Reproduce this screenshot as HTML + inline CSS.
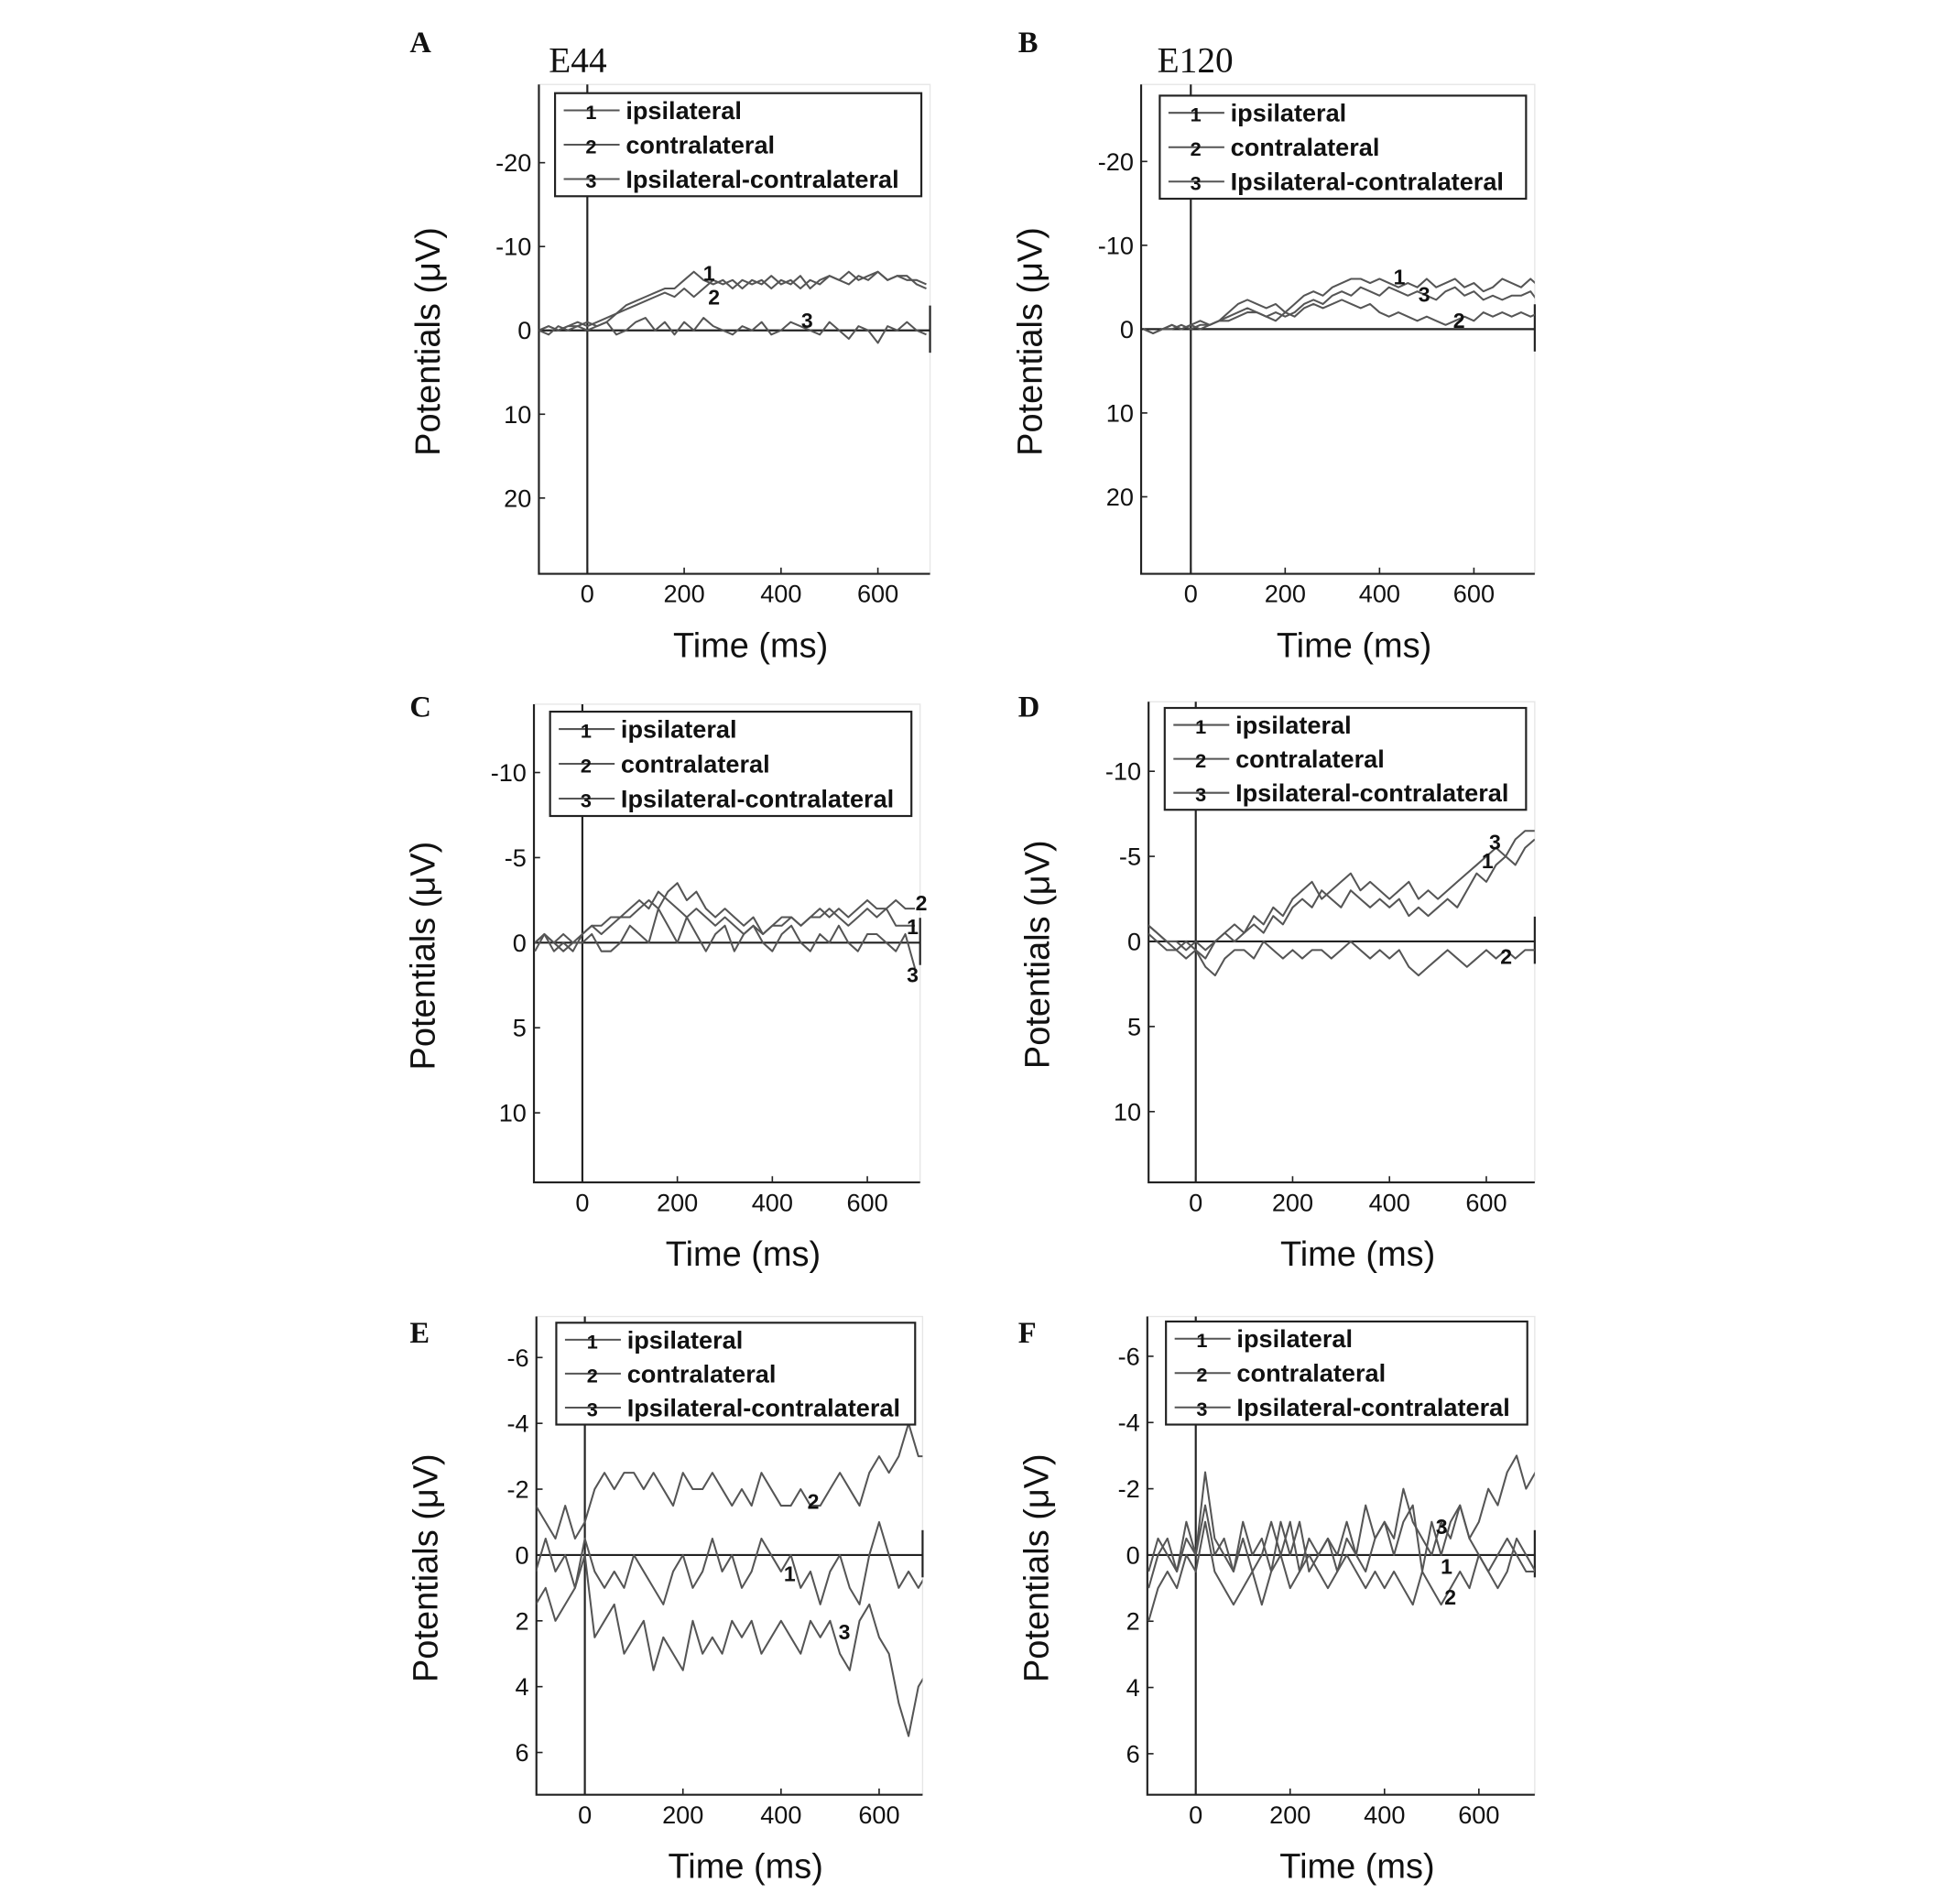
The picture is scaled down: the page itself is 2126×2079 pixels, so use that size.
<!DOCTYPE html>
<html><head><meta charset="utf-8"><title>ERP potentials</title>
<style>
html,body{margin:0;padding:0;background:#fff;}
svg{display:block;}
text{font-family:"Liberation Sans",Arial,sans-serif;fill:#111;}
</style></head>
<body>
<svg id="fig" width="2126" height="2079" viewBox="0 0 1568 1533" preserveAspectRatio="none" xmlns="http://www.w3.org/2000/svg"></svg>
<script>
// ---- data ----
const times = [-100,-80,-60,-40,-20,0,20,40,60,80,100,120,140,160,180,200,220,240,260,280,300,320,340,360,380,400,420,440,460,480,500,520,540,560,580,600,620,640,660,680,700,720,740,760];
const seriesNames = ["ipsilateral","contralateral","Ipsilateral-contralateral"];
const yTicksA = [-20,-10,0,10,20];
const yTicksC = [-10,-5,0,5,10];
const yTicksE = [-6,-4,-2,0,2,4,6];
const xTicks = [0,200,400,600];

const A1 = [0,-0.5,0,-0.5,-1,-0.5,-1,-1.5,-2,-3,-3.5,-4,-4.5,-5,-5,-6,-7,-6,-5.5,-6,-5,-6,-5.5,-6,-5,-6,-5.5,-6.5,-5,-6,-6.5,-6,-7,-6,-6.5,-7,-6,-6.5,-6,-6,-5.5];
const A2 = [0,-0.5,0,-0.5,-0.5,-1,-0.5,-1,-2,-2.5,-3,-3.5,-4,-4.5,-4,-5,-4,-5,-6,-5.5,-6,-5,-6,-5.5,-6.5,-5.5,-6,-5,-6,-5.5,-6.5,-6,-5.5,-6.5,-6,-7,-6,-6.5,-6.5,-5.5,-5];
const A3 = [0,0.5,-0.5,0,-0.5,0,-0.5,-1,0.5,0,-1,-1.5,0,-1,0.5,-1,0,-1.5,-0.5,0,0.5,-0.5,0,-1,0.5,0,-1,-0.5,0,0.5,-1,0,1,-0.5,0,1.5,-0.5,0,-1,0,0.5];

const B1 = [0,0.5,0,-0.5,0,-0.5,-1,-0.5,-1,-2,-3,-3.5,-3,-2.5,-3,-2,-3,-4,-4.5,-4,-5,-5.5,-6,-6,-5.5,-6,-5.5,-5,-5.5,-5,-6,-5,-5.5,-6,-5,-5.5,-4.5,-5,-6,-5.5,-5,-6,-5,-4];
const B2 = [0,0.5,0,0,-0.5,0,-0.5,-0.5,-1,-1.5,-2,-2.5,-2,-1.5,-1,-2,-1.5,-2.5,-3,-2.5,-3,-3.5,-3,-2.5,-3,-2,-1.5,-2,-1.5,-1,-1.5,-1,-0.5,-1,-1.5,-1,-2,-1.5,-2,-1.5,-2,-1.5,-2,-1.5];
const B3 = [0,0.5,0,-0.5,0,-0.5,0,-0.5,-1,-1,-1.5,-2,-2,-1.5,-2,-1.5,-2,-3,-3.5,-3,-4,-4.5,-4,-5,-4.5,-4,-5,-4.5,-4,-4.5,-4,-3.5,-4.5,-5,-4,-4.5,-3.5,-4,-3.5,-4,-4,-4.5,-3,-3];

const C1 = [0,-0.5,0.5,0,0.5,-0.5,-1,-1,-1.5,-1.5,-2,-2.5,-2,-3,-2.5,-2,-1.5,-2,-1.5,-1,-1.5,-1,-0.5,-1,-0.5,-1,-1,-1.5,-1,-1.5,-1.5,-2,-1.5,-1,-1.5,-2,-1.5,-2,-1,-1,-1];
const C2 = [0,-0.5,0,-0.5,0,-0.5,-1,-0.5,-1,-1.5,-1.5,-2,-2.5,-2,-3,-3.5,-2.5,-3,-2,-1.5,-2,-1.5,-1,-1.5,-0.5,-1,-1.5,-1.5,-1,-1.5,-2,-1.5,-2,-1.5,-2,-2.5,-2,-2,-2.5,-2,-2];
const C3 = [0.5,-0.5,0,0.5,0,0,-0.5,0.5,0.5,0,-1,-0.5,0,-2,-1,0,-1.5,-0.5,0.5,-0.5,-1,0.5,-0.5,-1,0,0.5,-0.5,-1,0,0.5,-0.5,0,-1,0,0.5,-0.5,-0.5,0,0.5,-0.5,1.5];

const D1 = [-1,-0.5,0,0.5,0,0.5,1,0,-0.5,0,-0.5,-1,-0.5,-1.5,-1,-2,-2.5,-2,-3,-2.5,-2,-3,-2.5,-2,-2.5,-2,-2.5,-1.5,-2,-1.5,-2,-2.5,-2,-3,-4,-3.5,-4.5,-5,-4.5,-5.5,-6];
const D2 = [-0.5,0,0.5,0.5,1,0.5,1.5,2,1,0.5,0.5,1,0,0.5,1,0.5,1,0.5,0.5,1,0.5,0,0.5,1,0.5,1,0.5,1.5,2,1.5,1,0.5,1,1.5,1,0.5,1,0.5,1,0.5,0.5];
const D3 = [-1,-0.5,0,0,0.5,0,0.5,0,-0.5,-1,-0.5,-1.5,-1,-2,-1.5,-2.5,-3,-3.5,-2.5,-3,-3.5,-4,-3,-3.5,-3,-2.5,-3,-3.5,-2.5,-3,-2.5,-3,-3.5,-4,-4.5,-5,-5.5,-5,-6,-6.5,-6.5];

const E1 = [0.5,-0.5,0.5,0,1,-0.5,0.5,1,0.5,1,0,0.5,1,1.5,0.5,0,1,0.5,-0.5,0.5,0,1,0.5,-0.5,0,0.5,0,1,0.5,1.5,0.5,0,1,1.5,0,-1,0,1,0.5,1,0.5];
const E2 = [-1.5,-1,-0.5,-1.5,-0.5,-1,-2,-2.5,-2,-2.5,-2.5,-2,-2.5,-2,-1.5,-2.5,-2,-2,-2.5,-2,-1.5,-2,-1.5,-2.5,-2,-1.5,-1.5,-2,-1.5,-1.5,-2,-2.5,-2,-1.5,-2.5,-3,-2.5,-3,-4,-3,-3];
const E3 = [1.5,1,2,1.5,1,0,2.5,2,1.5,3,2.5,2,3.5,2.5,3,3.5,2,3,2.5,3,2,2.5,2,3,2.5,2,2.5,3,2,2.5,2,3,3.5,2,1.5,2.5,3,4.5,5.5,4,3.5];

const F1 = [1,0,-0.5,0.5,-1,0,-2.5,-0.5,0,0.5,-1,0,-0.5,0.5,-1,0,-1,0.5,0,-0.5,0.5,-0.5,0,0.5,-0.5,-1,0,-1,-1.5,0.5,-1,0,-1,-1.5,-0.5,-1,-2,-1.5,-2.5,-3,-2,-2.5];
const F2 = [2,1,0.5,1,0,0.5,-1,0.5,1,1.5,1,0.5,1.5,0.5,0,1,0.5,0,0.5,1,0.5,0,0.5,1,0.5,1,0.5,1,1.5,0.5,1,1.5,1,0.5,1,0,0.5,1,0.5,-0.5,0,0.5];
const F3 = [0.5,-0.5,0,0.5,-0.5,0,-1.5,0,-0.5,0.5,-0.5,0.5,0,-1,0,-1,0.5,-0.5,0,-0.5,0,-1,0,-1.5,-0.5,-1,-0.5,-2,-1,-0.5,0,-1,-0.5,-1.5,-0.5,0,0.5,0,-0.5,0,0.5,0.5];

// ---- layout (pixel geometry, not data) ----
const panels = [
 {id:"a",letter:"A",lx:330,ly:42,title:"E44",tx:442,L:434,R:749,T:68,B:462,x0:473,x200:551,y0:266,yRef:-20,yRefPx:131,yt:yTicksA,s:[A1,A2,A3],leg:[447,75,742,158],marks:[["1",571,226],["2",575,245],["3",650,264]]},
 {id:"b",letter:"B",lx:820,ly:42,title:"E120",tx:932,L:919,R:1236,T:68,B:462,x0:959,x200:1035,y0:265,yRef:-20,yRefPx:130,yt:yTicksA,s:[B1,B2,B3],leg:[934,77,1229,160],marks:[["1",1127,229],["3",1147,243],["2",1175,264]]},
 {id:"c",letter:"C",lx:330,ly:577,L:430,R:741,T:567,B:952,x0:469,x200:545.5,y0:759,yRef:-10,yRefPx:622,yt:yTicksC,s:[C1,C2,C3],leg:[443,573,734,657],marks:[["2",742,733],["1",735,752],["3",735,791]]},
 {id:"d",letter:"D",lx:820,ly:577,L:925,R:1236,T:565,B:952,x0:963,x200:1041,y0:758,yRef:-10,yRefPx:621,yt:yTicksC,s:[D1,D2,D3],leg:[938,570,1229,652],marks:[["3",1204,684],["1",1198,699],["2",1213,776]]},
 {id:"e",letter:"E",lx:330,ly:1081,L:432,R:743,T:1060,B:1445,x0:471,x200:550,y0:1252,yRef:-6,yRefPx:1093,yt:yTicksE,s:[E1,E2,E3],leg:[448,1065,737,1147],marks:[["2",655,1215],["1",636,1273],["3",680,1320]]},
 {id:"f",letter:"F",lx:820,ly:1081,L:924,R:1236,T:1060,B:1445,x0:963,x200:1039,y0:1252,yRef:-6,yRefPx:1092,yt:yTicksE,s:[F1,F2,F3],leg:[939,1064,1230,1147],marks:[["3",1161,1235],["1",1165,1267],["2",1168,1292]]}
];

const NS = "http://www.w3.org/2000/svg";
const svg = document.getElementById("fig");
const defs = document.createElementNS(NS, "defs");
svg.appendChild(defs);
function mk(tag, parent, attrs){
  const e = document.createElementNS(NS, tag);
  for (const k in attrs) e.setAttribute(k, attrs[k]);
  parent.appendChild(e);
  return e;
}

panels.forEach(p=>{
  const g = mk("g", svg, {});
  
  
  const xs = t => p.x0 + (t/200)*(p.x200 - p.x0);
  const ys = v => p.y0 + (v/p.yRef)*(p.yRefPx - p.y0);

  const cp = mk("clipPath", defs, {id:"clip-"+p.id});
  mk("rect", cp, {x:p.L, y:p.T, width:p.R-p.L, height:p.B-p.T});

  const lt = mk("text", g, {x:p.lx, y:p.ly, "font-size":24, "font-weight":"bold", style:"font-family:'Liberation Serif',serif"});
  lt.textContent = p.letter;
  
  
  if (p.title){
    const tt = mk("text", g, {x:p.tx, y:58, "font-size":29, style:"font-family:'Liberation Serif',serif"});
    tt.textContent = p.title;
    
    
  }
  const fr = mk("rect", g, {x:p.L, y:p.T, width:p.R-p.L, height:p.B-p.T, fill:"none", stroke:"#e6e6e6", "stroke-width":1});
  
  
  const ax = mk("path", g, {d:`M${p.L},${p.T} V${p.B} H${p.R}`, fill:"none", stroke:"#222", "stroke-width":1.6});
  
  
  const zx = mk("line", g, {x1:xs(0), x2:xs(0), y1:p.T, y2:p.B, stroke:"#222", "stroke-width":1.6});
  
  
  const zy = mk("line", g, {x1:p.L, x2:p.R, y1:p.y0, y2:p.y0, stroke:"#222", "stroke-width":1.6});
  
  
  const rt = mk("line", g, {x1:p.R, x2:p.R, y1:p.y0-20, y2:p.y0+18, stroke:"#222", "stroke-width":1.6});
  
  

  p.yt.forEach(v=>{
    const y = ys(v);
    const tk = mk("line", g, {x1:p.L, x2:p.L+5, y1:y, y2:y, stroke:"#222", "stroke-width":1.2});
    
    
    const tl = mk("text", g, {x:p.L-6, y:y+7, "font-size":20, "text-anchor":"end"});
    tl.textContent = String(v);
    
    
  });
  xTicks.forEach(v=>{
    const x = xs(v);
    const tk = mk("line", g, {x1:x, x2:x, y1:p.B, y2:p.B-5, stroke:"#222", "stroke-width":1.2});
    
    
    const tl = mk("text", g, {x:x, y:p.B+23, "font-size":20, "text-anchor":"middle"});
    tl.textContent = String(v);
    
    
  });
  const xl = mk("text", g, {x:(p.L+p.R)/2+13, y:p.B+67, "font-size":28, "text-anchor":"middle"});
  xl.textContent = "Time (ms)";
  
  
  const cy = (p.T+p.B)/2 + 10;
  const yl = mk("text", g, {x:p.L-80, y:cy, "font-size":28, "text-anchor":"middle", transform:`rotate(-90 ${p.L-80} ${cy})`});
  yl.textContent = "Potentials (\u03bcV)";
  
  

  const sg = mk("g", g, {"clip-path":"url(#clip-"+p.id+")"});
  p.s.forEach((vals,k)=>{
    const d = vals.map((v,i)=>(i?"L":"M")+xs(times[i]).toFixed(1)+","+ys(v).toFixed(1)).join(" ");
    const ln = mk("path", sg, {d:d, fill:"none", stroke:"#555", "stroke-width":1.5, "stroke-linejoin":"round"});
    
    
  });
  p.marks.forEach(m=>{
    const mt = mk("text", g, {x:m[1], y:m[2], "font-size":17, "font-weight":"bold", "text-anchor":"middle"});
    mt.textContent = m[0];
    
    
  });

  const [lx1,ly1,lx2,ly2] = p.leg;
  const lg = mk("g", g, {});
  
  
  mk("rect", lg, {x:lx1, y:ly1, width:lx2-lx1, height:ly2-ly1, fill:"#fff", stroke:"#222", "stroke-width":1.6});
  const step = (ly2-ly1)/3;
  seriesNames.forEach((nm,k)=>{
    const y = ly1 + step*(k+0.5);
    const ent = mk("g", lg, {});
    
    
    mk("line", ent, {x1:lx1+7, x2:lx1+52, y1:y, y2:y, stroke:"#555", "stroke-width":1.5});
    const n = mk("text", ent, {x:lx1+29, y:y+7, "font-size":16, "font-weight":"bold", "text-anchor":"middle"});
    n.textContent = String(k+1);
    const t = mk("text", ent, {x:lx1+57, y:y+7, "font-size":20, "font-weight":"bold"});
    t.textContent = nm;
  });
});
</script>
</body></html>
